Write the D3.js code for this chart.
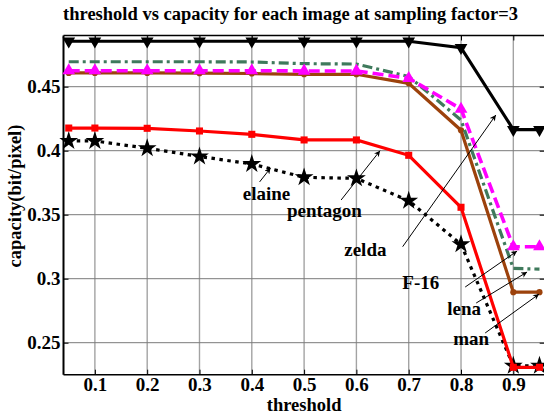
<!DOCTYPE html>
<html>
<head>
<meta charset="utf-8">
<script src="https://cdn.jsdelivr.net/npm/d3@7"></script>
<style>
  html, body { margin: 0; padding: 0; background: #fff; }
  svg { display: block; }
  text { font-family: "Liberation Serif", "Times New Roman", serif; font-weight: bold; fill: #000; }
</style>
</head>
<body>
<svg id="chart" width="544" height="418"></svg>
<script>
// Threshold values on the x axis
const thresholds = [0.05, 0.1, 0.2, 0.3, 0.4, 0.5, 0.6, 0.7, 0.8, 0.9, 0.95];

// Embedding capacity (bit/pixel) per test image
const zelda    = [0.4855, 0.4855, 0.4855, 0.4855, 0.4855, 0.4855, 0.4855, 0.4855, 0.4805, 0.4165, 0.4165];
const lena     = [0.4695, 0.4695, 0.4695, 0.4695, 0.4693, 0.4680, 0.4677, 0.4580, 0.4240, 0.3080, 0.3075];
const f16      = [0.4625, 0.4625, 0.4625, 0.4625, 0.4625, 0.4623, 0.4623, 0.4566, 0.4326, 0.3250, 0.3250];
const man      = [0.4608, 0.4608, 0.4608, 0.4606, 0.4603, 0.4597, 0.4597, 0.4526, 0.4160, 0.2895, 0.2895];
const pentagon = [0.4177, 0.4177, 0.4175, 0.4154, 0.4128, 0.4084, 0.4084, 0.3964, 0.3558, 0.2308, 0.2308];
const elaine   = [0.4076, 0.4076, 0.4019, 0.3955, 0.3896, 0.3792, 0.3784, 0.3609, 0.3269, 0.2320, 0.2320];

// Axis ticks
const xTicks = [0.1, 0.2, 0.3, 0.4, 0.5, 0.6, 0.7, 0.8, 0.9];
const yTicks = [0.25, 0.3, 0.35, 0.4, 0.45];
const yTickLabels = ["0.25", "0.3", "0.35", "0.4", "0.45"];

// Annotation labels: text anchor and arrow tail/tip, in data units
const labelNames = ["elaine", "pentagon", "zelda", "F-16", "lena", "man"];
const labelX     = [0.4282, 0.5389, 0.6171, 0.7231, 0.8061, 0.8194];
const labelY     = [0.3615, 0.3482, 0.3177, 0.2920, 0.2716, 0.2482];
const arrowFromX = [0.4149, 0.5708, 0.6884, 0.8080, 0.8290, 0.8462];
const arrowFromY = [0.3756, 0.3615, 0.3250, 0.2935, 0.2810, 0.2576];
const arrowToX   = [0.4359, 0.6452, 0.8666, 0.9072, 0.9263, 0.9492];
const arrowToY   = [0.3865, 0.4000, 0.4279, 0.3216, 0.3052, 0.2880];

const svg = d3.select("#chart");
const margin = { left: 63.5, top: 35.5, right: 544.7, bottom: 374.7 };

const x = d3.scaleLinear().domain([0.04, 0.96]).range([margin.left, margin.right]);
const y = d3.scaleLinear().domain([0.225, 0.49]).range([margin.bottom, margin.top]);

const defs = svg.append("defs");
defs.append("marker")
  .attr("id", "arrowHead")
  .attr("viewBox", "0 0 10 10")
  .attr("refX", 10).attr("refY", 5)
  .attr("markerWidth", 7).attr("markerHeight", 6)
  .attr("markerUnits", "userSpaceOnUse")
  .attr("orient", "auto")
  .append("path").attr("d", "M0,0 L10,5 L0,10 L3,5 Z").attr("fill", "#000");

// Grid
const grid = svg.append("g");
grid.selectAll("line.vg").data(xTicks).join("line")
  .attr("class", "vg")
  .attr("x1", d => x(d)).attr("x2", d => x(d))
  .attr("y1", margin.top).attr("y2", margin.bottom)
  .attr("stroke", "#a3a3a3").attr("stroke-width", 1.4);
grid.selectAll("line.hg").data(yTicks).join("line")
  .attr("class", "hg")
  .attr("y1", d => y(d)).attr("y2", d => y(d))
  .attr("x1", margin.left).attr("x2", margin.right)
  .attr("stroke", "#7a7a7a").attr("stroke-width", 1);

// Axes
const xAxisB = d3.axisBottom(x).tickValues(xTicks).tickSize(-5).tickFormat(d3.format(".1f")).tickPadding(3);
const xAxisT = d3.axisTop(x).tickValues(xTicks).tickSize(-5).tickFormat("");
const yAxisL = d3.axisLeft(y).tickValues(yTicks).tickSize(-5).tickFormat((d, i) => yTickLabels[i]).tickPadding(3);
const yAxisR = d3.axisRight(y).tickValues(yTicks).tickSize(-5).tickFormat("");

function styleAxis(g) {
  g.select(".domain").remove();
  g.selectAll(".tick line").attr("stroke", "#000").attr("stroke-width", 1);
  g.selectAll("text").style("font-size", "19px").style("font-family", "'Liberation Serif', serif").style("font-weight", "bold").attr("fill", "#000");
}
svg.append("g").attr("transform", `translate(0,${margin.bottom})`).call(xAxisB).call(styleAxis);
svg.append("g").attr("transform", `translate(0,${margin.top})`).call(xAxisT).call(styleAxis);
svg.append("g").attr("transform", `translate(${margin.left},0)`).call(yAxisL).call(styleAxis);
svg.append("g").attr("transform", `translate(${margin.right},0)`).call(yAxisR).call(styleAxis);

// Frame
svg.append("line").attr("x1", margin.left).attr("x2", margin.right).attr("y1", margin.top).attr("y2", margin.top)
  .attr("stroke", "#000").attr("stroke-width", 1.5);
svg.append("line").attr("x1", margin.left).attr("x2", margin.right).attr("y1", margin.bottom).attr("y2", margin.bottom)
  .attr("stroke", "#000").attr("stroke-width", 1.5);
svg.append("line").attr("x1", margin.left).attr("x2", margin.left).attr("y1", margin.top).attr("y2", margin.bottom)
  .attr("stroke", "#000").attr("stroke-width", 2);

// Series
const series = [
  { name: "elaine",   values: elaine,   color: "#000000", width: 3.2, dash: "3.5,4.5", marker: "star" },
  { name: "pentagon", values: pentagon, color: "#ff0000", width: 3.2, dash: null,      marker: "square" },
  { name: "man",      values: man,      color: "#9c420c", width: 3.2, dash: null,      marker: "circle" },
  { name: "lena",     values: lena,     color: "#3f7a5c", width: 3.2, dash: "10,4,3,4", marker: null },
  { name: "F-16",     values: f16,      color: "#ff00ff", width: 3.6, dash: "11,5",    marker: "triangleUp" },
  { name: "zelda",    values: zelda,    color: "#000000", width: 3.2, dash: null,      marker: "triangleDown" }
];

const line = d3.line().x((d, i) => x(thresholds[i])).y(d => y(d));
const plot = svg.append("g");

const symbolFor = {
  star: d3.symbol().type(d3.symbolStar).size(110),
  square: d3.symbol().type(d3.symbolSquare).size(50),
  circle: d3.symbol().type(d3.symbolCircle).size(30),
  triangleUp: d3.symbol().type(d3.symbolTriangle).size(70),
  triangleDown: d3.symbol().type(d3.symbolTriangle).size(70)
};

series.forEach(s => {
  const g = plot.append("g");
  g.append("path")
    .datum(s.values)
    .attr("d", line)
    .attr("fill", "none")
    .attr("stroke", s.color)
    .attr("stroke-width", s.width)
    .attr("stroke-linejoin", "miter")
    .attr("stroke-dasharray", s.dash);
  if (s.marker) {
    g.selectAll("path.mk").data(s.values).join("path")
      .attr("class", "mk")
      .attr("d", symbolFor[s.marker])
      .attr("transform", (d, i) => `translate(${x(thresholds[i])},${y(d)})${s.marker === "triangleDown" ? " rotate(180)" : ""}`)
      .attr("fill", s.color);
  }
});

// Annotations
const ann = svg.append("g");
labelNames.forEach((name, i) => {
  ann.append("line")
    .attr("x1", x(arrowFromX[i])).attr("y1", y(arrowFromY[i]))
    .attr("x2", x(arrowToX[i])).attr("y2", y(arrowToY[i]))
    .attr("stroke", "#000").attr("stroke-width", 1)
    .attr("marker-end", "url(#arrowHead)");
  ann.append("text")
    .attr("x", x(labelX[i])).attr("y", y(labelY[i]))
    .attr("text-anchor", "middle")
    .style("font-size", "19px")
    .text(name);
});

// Titles
svg.append("text")
  .attr("x", 290.5).attr("y", 20)
  .attr("text-anchor", "middle")
  .style("font-size", "18.5px")
  .text("threshold vs capacity for each image at sampling factor=3");
svg.append("text")
  .attr("x", x(0.5)).attr("y", 411)
  .attr("text-anchor", "middle")
  .style("font-size", "18.5px")
  .text("threshold");
svg.append("text")
  .attr("transform", "translate(21,196) rotate(-90)")
  .attr("text-anchor", "middle")
  .style("font-size", "18.5px")
  .text("capacity(bit/pixel)");
</script>
</body>
</html>
